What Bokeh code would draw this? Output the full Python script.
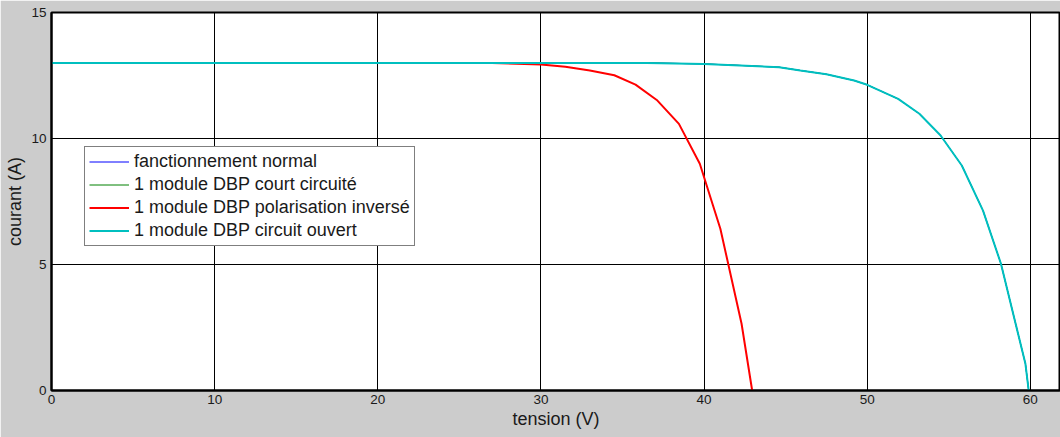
from bokeh.plotting import figure
from bokeh.models import Range1d, Legend, LegendItem, FixedTicker
from bokeh.embed import file_html
from bokeh.resources import INLINE

# --- data ---
v_normal = [0, 10, 20, 30, 36.5, 40, 42.2, 44.6, 45.9, 47.5, 49.2, 50.0, 51.9, 53.2, 54.5, 55.8, 57.1, 58.2, 59.7, 59.9]
i_normal = [13.0, 13.0, 13.0, 13.0, 13.0, 12.96, 12.9, 12.83, 12.7, 12.55, 12.3, 12.13, 11.57, 10.98, 10.12, 8.93, 7.14, 5.03, 1.06, 0.0]

v_court = list(v_normal)
i_court = list(i_normal)

v_inverse = [0, 10, 20, 27, 30, 31.5, 33, 34.5, 35.8, 37.1, 38.46, 39.74, 41.0, 42.3, 42.95]
i_inverse = [13.0, 13.0, 13.0, 13.0, 12.94, 12.85, 12.7, 12.51, 12.14, 11.53, 10.58, 9.0, 6.42, 2.65, 0.0]

v_ouvert = list(v_normal)
i_ouvert = list(i_normal)

labels = ["fanctionnement normal",
          "1 module DBP court circuité",
          "1 module DBP polarisation inversé",
          "1 module DBP circuit ouvert"]
x_ticks = [0, 10, 20, 30, 40, 50, 60]
y_ticks = [0, 5, 10, 15]

FONT = "Liberation Sans"

p = figure(width=1060, height=437, output_backend="svg", toolbar_location=None,
           x_range=Range1d(0, 61.85), y_range=Range1d(0, 15),
           min_border_left=51, min_border_right=0, min_border_top=12, min_border_bottom=47)

p.border_fill_color = "#cccccc"
p.background_fill_color = "white"
p.outline_line_color = "black"
p.outline_line_width = 2

for ax in (p.xaxis[0], p.yaxis[0]):
    ax.axis_line_color = "black"
    ax.axis_line_width = 2
    ax.major_tick_in = 4
    ax.major_tick_out = 0
    ax.minor_tick_line_color = None
    ax.major_tick_line_color = "black"
    ax.major_label_text_font = FONT
    ax.major_label_text_font_size = "13.5px"
    ax.major_label_text_color = "#1a1a1a"
    ax.axis_label_text_font = FONT
    ax.axis_label_text_font_size = "18px"
    ax.axis_label_text_font_style = "normal"
    ax.axis_label_text_color = "#1a1a1a"

p.xaxis.ticker = FixedTicker(ticks=x_ticks)
p.yaxis.ticker = FixedTicker(ticks=y_ticks)
p.xaxis.axis_label = "tension (V)"
p.yaxis.axis_label = "courant (A)"
p.xaxis.major_label_standoff = 4
p.yaxis.major_label_standoff = 5
p.xaxis.axis_label_standoff = 2
p.yaxis.axis_label_standoff = 3

p.xgrid.grid_line_color = "black"
p.ygrid.grid_line_color = "black"
p.xgrid.grid_line_width = 1
p.ygrid.grid_line_width = 1
p.xgrid.grid_line_alpha = 1
p.ygrid.grid_line_alpha = 1

r1 = p.line(v_normal, i_normal, line_color="#0000ff", line_width=1)
r2 = p.line(v_court, i_court, line_color="#008000", line_width=1)
r3 = p.line(v_inverse, i_inverse, line_color="#ff0000", line_width=2)
r4 = p.line(v_ouvert, i_ouvert, line_color="#00bfbf", line_width=2)

legend = Legend(items=[LegendItem(label=labels[0], renderers=[r1]),
                       LegendItem(label=labels[1], renderers=[r2]),
                       LegendItem(label=labels[2], renderers=[r3]),
                       LegendItem(label=labels[3], renderers=[r4])],
                location=(33, 144))
legend.label_text_font = FONT
legend.label_text_font_size = "18px"
legend.label_text_color = "#1a1a1a"
legend.padding = 4
legend.margin = 0
legend.spacing = 2
legend.label_height = 19
legend.glyph_height = 19
legend.glyph_width = 40
legend.label_standoff = 5
legend.border_line_color = "black"
legend.border_line_width = 1
legend.background_fill_color = "white"
legend.background_fill_alpha = 1
p.add_layout(legend, "center")

open("out.html", "w").write(file_html(p, INLINE))
